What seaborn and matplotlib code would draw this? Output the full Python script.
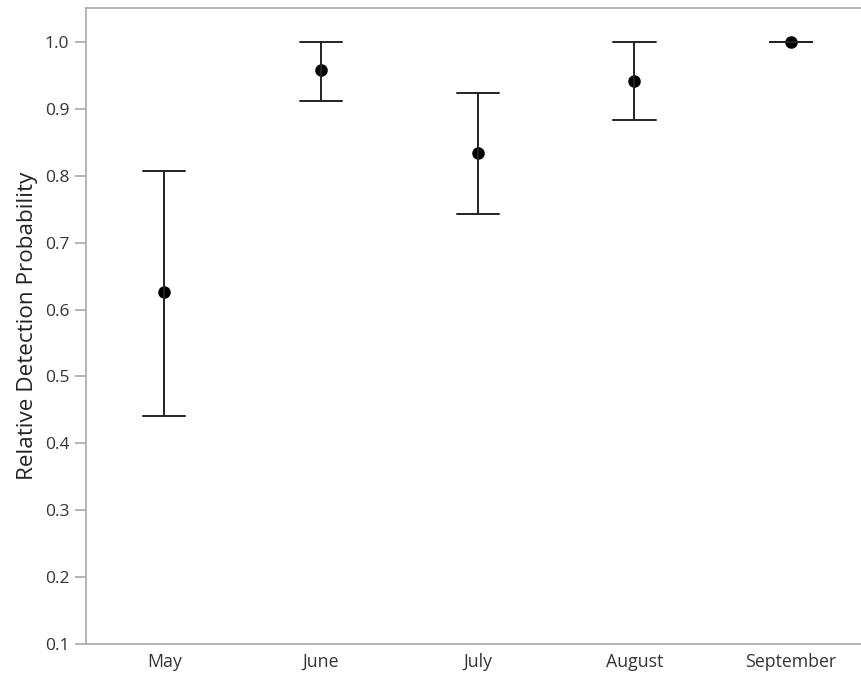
import matplotlib
matplotlib.use("Agg")
import matplotlib.pyplot as plt
import seaborn as sns
import pandas as pd

months = ["May", "June", "July", "August", "September"]
estimate = [0.626, 0.958, 0.834, 0.942, 1.000]
lower = [0.441, 0.912, 0.743, 0.883, 1.000]
upper = [0.807, 1.000, 0.924, 1.000, 1.000]

# long form: the median of (lower, estimate, upper) is the estimate,
# and the 100% percentile interval spans lower..upper
rows = []
for m, lo, est, hi in zip(months, lower, estimate, upper):
    for v in (lo, est, hi):
        rows.append({"Month": m, "Probability": v})
df = pd.DataFrame(rows)

sns.set_style("white")
plt.rcParams["font.family"] = ["Open Sans", "DejaVu Sans"]

fig = plt.figure(figsize=(8.61, 6.73), dpi=100)
ax = fig.add_axes([86 / 861, 29 / 673, 775 / 861, 636 / 673])

sns.pointplot(
    data=df, x="Month", y="Probability", order=months,
    estimator="median", errorbar=("pi", 100),
    linestyle="none", color="black", markersize=7,
    err_kws={"color": "#222222", "linewidth": 1.4},
    capsize=0.27, ax=ax,
)

ax.set_ylim(0.1, 1.051)
ax.set_xlim(-0.5, 4.446)
ax.set_yticks([0.1, 0.2, 0.3, 0.4, 0.5, 0.6, 0.7, 0.8, 0.9, 1.0])
ax.set_yticklabels([f"{t:.1f}" for t in ax.get_yticks()])
ax.set_xlabel("")
ax.set_ylabel("Relative Detection Probability", fontsize=16.2, color="#222222", labelpad=5)

for side in ("left", "top", "bottom"):
    ax.spines[side].set_color("#a8a8a8")
    ax.spines[side].set_linewidth(1.2)
ax.spines["right"].set_visible(False)

ax.tick_params(axis="y", which="both", left=True, length=8, width=1.2,
               color="#a8a8a8", labelsize=12.5, labelcolor="#333333", pad=4)
ax.tick_params(axis="x", bottom=False, labelsize=12.8, labelcolor="#333333", pad=3)

fig.savefig("out.png", dpi=100)
